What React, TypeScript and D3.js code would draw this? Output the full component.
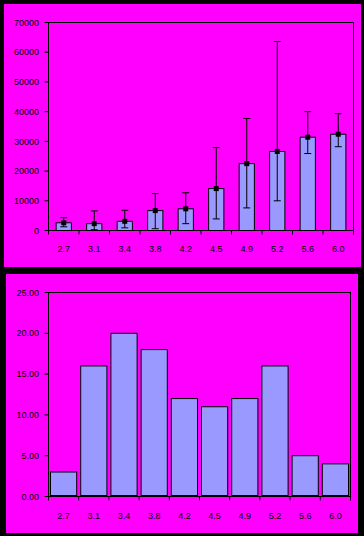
import React from "react";
import * as d3 from "d3";

const categories = ["2.7", "3.1", "3.4", "3.8", "4.2", "4.5", "4.9", "5.2", "5.6", "6.0"];
const meanValues = [2600, 2300, 3100, 6700, 7300, 14100, 22500, 26600, 31400, 32400];
const errHigh = [4300, 6600, 6800, 12400, 12700, 27900, 37700, 63600, 40000, 39300];
const errLow = [1250, 250, 900, 600, 2300, 3900, 7600, 10000, 25900, 28200];
const topTicks = [0, 10000, 20000, 30000, 40000, 50000, 60000, 70000];
const countValues = [3, 16, 20, 18, 12, 11, 12, 16, 5, 4];
const bottomTicks = [0, 5, 10, 15, 20, 25];

const MAG = "#FF00FF";
const BAR = "#9999FF";
const FONT = "'Liberation Sans', Arial, sans-serif";

function Axes({ x, y, ticks, fmt, left, right, top, bottom, labelY }: any) {
  const bounds = d3.range(categories.length + 1).map((i) => left + (i * (right - left)) / categories.length);
  return (
    <g>
      <rect x={left} y={top} width={right - left} height={bottom - top} fill="none" stroke="#000" strokeWidth={1} />
      {bounds.map((bx, i) => (
        <line key={i} x1={bx} x2={bx} y1={bottom} y2={bottom + 4} stroke="#000" />
      ))}
      {ticks.map((t: number) => (
        <g key={t}>
          <line x1={left - 4} x2={left} y1={y(t)} y2={y(t)} stroke="#000" />
          <text x={39} y={y(t)} dy="0.35em" textAnchor="end" fontSize={9} fontFamily={FONT} fill="#000">
            {fmt(t)}
          </text>
        </g>
      ))}
      {categories.map((c) => (
        <text key={c} x={(x(c) as number) + x.bandwidth() / 2} y={labelY} dy="0.35em" textAnchor="middle" fontSize={9} fontFamily={FONT} fill="#000">
          {c}
        </text>
      ))}
    </g>
  );
}

export default function App() {
  // top chart
  const tL = 48.5, tR = 353.5, tT = 22.5, tB = 230.5;
  const xT = d3.scaleBand().domain(categories).range([tL, tR]).paddingInner(0).paddingOuter(0);
  const yT = d3.scaleLinear().domain([0, 70000]).range([tB, tT]);
  const bwT = xT.bandwidth() * 0.5;

  // bottom chart
  const bL = 48.5, bR = 350.5, bT = 292.5, bB = 496.5;
  const xB = d3.scaleBand().domain(categories).range([bL, bR]);
  const yB = d3.scaleLinear().domain([0, 25]).range([bB, bT]);

  return (
    <svg width={364} height={536} style={{ position: "absolute", left: 0, top: 0, display: "block" }}>
      <rect x={0} y={0} width={364} height={536} fill="#000" />
      <rect x={4} y={4} width={357} height={263} fill={MAG} />
      <rect x={6} y={274} width={352} height={259} fill={MAG} />

      {/* top chart bars */}
      {categories.map((c, i) => {
        const cx = (xT(c) as number) + xT.bandwidth() / 2;
        return (
          <g key={c}>
            <rect x={cx - bwT / 2} y={yT(meanValues[i])} width={bwT} height={tB - yT(meanValues[i])} fill={BAR} stroke="#000" strokeWidth={1} />
            <line x1={cx} x2={cx} y1={yT(errHigh[i])} y2={yT(errLow[i])} stroke="#000" />
            <line x1={cx - 3.5} x2={cx + 3.5} y1={yT(errHigh[i])} y2={yT(errHigh[i])} stroke="#000" />
            <line x1={cx - 3.5} x2={cx + 3.5} y1={yT(errLow[i])} y2={yT(errLow[i])} stroke="#000" />
            <rect x={cx - 2.5} y={yT(meanValues[i]) - 2.5} width={5} height={5} fill="#000" />
          </g>
        );
      })}
      <Axes x={xT} y={yT} ticks={topTicks} fmt={(t: number) => String(t)} left={tL} right={tR} top={tT} bottom={tB} labelY={249} />

      {/* bottom chart bars */}
      {categories.map((c, i) => (
        <rect key={c} x={(xB(c) as number) + 2} y={yB(countValues[i])} width={xB.bandwidth() - 4} height={bB - 1 - yB(countValues[i])} fill={BAR} stroke="#000" strokeWidth={1} />
      ))}
      <Axes x={xB} y={yB} ticks={bottomTicks} fmt={(t: number) => t.toFixed(2)} left={bL} right={bR} top={bT} bottom={bB} labelY={516} />
    </svg>
  );
}
